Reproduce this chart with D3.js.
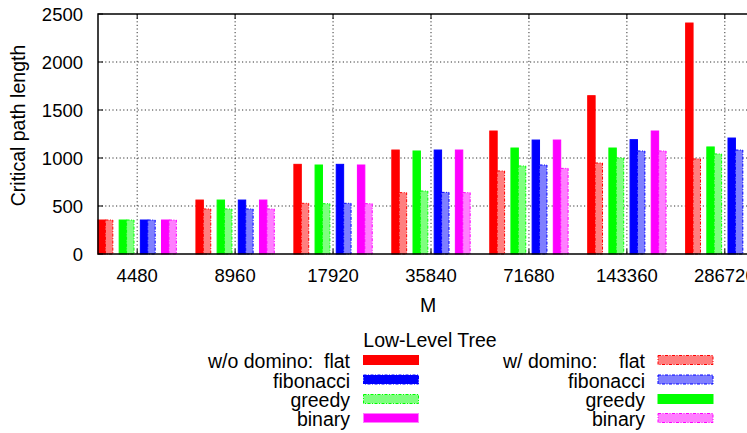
<!DOCTYPE html>
<html>
<head>
<meta charset="utf-8">
<script src="https://cdn.jsdelivr.net/npm/d3@7"></script>
<style>
  body { margin: 0; background: #fff; }
  text { font-family: "Liberation Sans", Arial, sans-serif; fill: #000; }
</style>
</head>
<body>
<div id="chart"></div>
<script>
// values
const sizes = ["4480", "8960", "17920", "35840", "71680", "143360", "286720"];
const flatWo = [354, 562, 934, 1083, 1281, 1649, 2406];
const flatW = [354, 469, 528, 639, 865, 948, 990];
const greedyWo = [354, 562, 927, 1073, 1104, 1104, 1115];
const greedyW = [354, 469, 524, 656, 917, 1000, 1042];
const fibWo = [354, 562, 934, 1083, 1187, 1191, 1208];
const fibW = [354, 469, 528, 642, 927, 1073, 1083];
const binWo = [354, 562, 927, 1083, 1187, 1281, 1281];
const binW = [354, 469, 524, 639, 892, 1073, 1083];
const yTicks = [0, 500, 1000, 1500, 2000, 2500];

const trees = ["flat", "greedy", "fibonacci", "binary"];
const solid = { flat: "#ff0000", greedy: "#00ff00", fibonacci: "#0000ff", binary: "#ff00ff" };
const light = { flat: "#ff7f7f", greedy: "#7fff7f", fibonacci: "#7f7fff", binary: "#ff7fff" };
const series = {
  flat: [flatWo, flatW],
  greedy: [greedyWo, greedyW],
  fibonacci: [fibWo, fibW],
  binary: [binWo, binW],
};

const width = 747, height = 433;
const plotLeft = 98, plotTop = 14, plotBottom = 254, plotRight = 758;
const tickFont = 18.5, labelFont = 19.5;

const svg = d3.select("#chart").append("svg")
  .attr("width", width).attr("height", height);
svg.append("rect").attr("width", width).attr("height", height).attr("fill", "#fff");

const x = d3.scaleBand().domain(sizes).range([plotLeft, 764]).paddingInner(0.2).paddingOuter(0);
const xPair = d3.scaleBand().domain(trees).range([0, x.bandwidth()]).paddingInner(0.3);
const xBar = d3.scaleBand().domain([0, 1]).range([0, xPair.bandwidth()]);
const y = d3.scaleLinear().domain([0, 2500]).range([plotBottom, plotTop]);

// grid (behind bars)
const grid = svg.append("g").attr("stroke", "#333").attr("stroke-width", 1)
  .attr("stroke-dasharray", "1.2,2.4");
grid.selectAll(".hg").data(yTicks.filter(d => d > 0 && d < 2500)).enter().append("line")
  .attr("x1", plotLeft).attr("x2", plotRight)
  .attr("y1", d => y(d)).attr("y2", d => y(d));
grid.selectAll(".vg").data(sizes).enter().append("line")
  .attr("x1", d => x(d) + x.bandwidth() / 2).attr("x2", d => x(d) + x.bandwidth() / 2)
  .attr("y1", plotTop).attr("y2", plotBottom);

// bars
const bars = [];
sizes.forEach((s, i) => {
  trees.forEach(t => {
    [0, 1].forEach(k => bars.push({ size: s, tree: t, k, value: series[t][k][i] }));
  });
});

svg.append("g").selectAll("rect").data(bars).enter().append("rect")
  .attr("x", d => x(d.size) + xPair(d.tree) + xBar(d.k))
  .attr("width", xBar.bandwidth())
  .attr("y", d => y(d.value))
  .attr("height", d => plotBottom - y(d.value))
  .attr("fill", d => d.k == 0 ? solid[d.tree] : light[d.tree])
  .attr("stroke", d => solid[d.tree])
  .attr("stroke-width", 1)
  .attr("stroke-dasharray", d => d.k == 0 ? null : "3,1.5,1,1.5");

// frame + ticks
const axes = svg.append("g").attr("stroke", "#000").attr("stroke-width", 1.5).attr("fill", "none");
axes.append("path").attr("d", `M${plotRight},${plotTop}H${plotLeft}V${plotBottom}H${plotRight}`);
yTicks.forEach(v => {
  axes.append("line").attr("x1", plotLeft).attr("x2", plotLeft + 5).attr("y1", y(v)).attr("y2", y(v)).attr("stroke-width", 1);
});
sizes.forEach(s => {
  const cx = x(s) + x.bandwidth() / 2;
  axes.append("line").attr("x1", cx).attr("x2", cx).attr("y1", plotTop).attr("y2", plotTop + 5).attr("stroke-width", 1);
  axes.append("line").attr("x1", cx).attr("x2", cx).attr("y1", plotBottom).attr("y2", plotBottom - 5).attr("stroke-width", 1);
});

// tick labels
svg.append("g").selectAll("text").data(yTicks).enter().append("text")
  .attr("x", 83).attr("y", d => y(d) + 6.6)
  .attr("text-anchor", "end").attr("font-size", tickFont)
  .text(d => d);
svg.append("g").selectAll("text").data(sizes).enter().append("text")
  .attr("x", d => x(d) + x.bandwidth() / 2).attr("y", 282)
  .attr("text-anchor", "middle").attr("font-size", tickFont)
  .text(d => d);

svg.append("text").attr("x", (plotLeft + plotRight) / 2).attr("y", 311.5)
  .attr("text-anchor", "middle").attr("font-size", labelFont).text("M");
svg.append("text").attr("transform", `translate(25,${(plotTop + plotBottom) / 2 - 8.5}) rotate(-90)`)
  .attr("text-anchor", "middle").attr("font-size", labelFont).text("Critical path length");

// legend
const legend = svg.append("g");
legend.append("text").attr("x", 430).attr("y", 347).attr("text-anchor", "middle")
  .attr("font-size", labelFont).text("Low-Level Tree");

const rowY = [368, 387.5, 407, 426];
const legLeft = [
  { label: "w/o domino:  flat", fill: solid.flat, stroke: solid.flat, dashed: false },
  { label: "fibonacci", fill: solid.fibonacci, stroke: solid.fibonacci, dashed: true },
  { label: "greedy", fill: light.greedy, stroke: solid.greedy, dashed: true },
  { label: "binary", fill: solid.binary, stroke: light.binary, dashed: false },
];
const legRight = [
  { label: "w/ domino:    flat", fill: light.flat, stroke: solid.flat, dashed: true },
  { label: "fibonacci", fill: light.fibonacci, stroke: solid.fibonacci, dashed: true },
  { label: "greedy", fill: solid.greedy, stroke: solid.greedy, dashed: false },
  { label: "binary", fill: light.binary, stroke: solid.binary, dashed: true },
];

function drawColumn(items, textX, swX) {
  items.forEach((d, i) => {
    legend.append("text").attr("x", textX).attr("y", rowY[i])
      .attr("text-anchor", "end").attr("font-size", labelFont)
      .attr("xml:space", "preserve").style("white-space", "pre")
      .text(d.label);
    legend.append("rect").attr("x", swX).attr("y", rowY[i] - 12.5)
      .attr("width", 55).attr("height", 9)
      .attr("fill", d.fill).attr("stroke", d.stroke).attr("stroke-width", 1)
      .attr("stroke-dasharray", d.dashed ? "3,1.5,1,1.5" : null);
  });
}
drawColumn(legLeft, 350, 363.5);
drawColumn(legRight, 645, 658);
</script>
</body>
</html>
